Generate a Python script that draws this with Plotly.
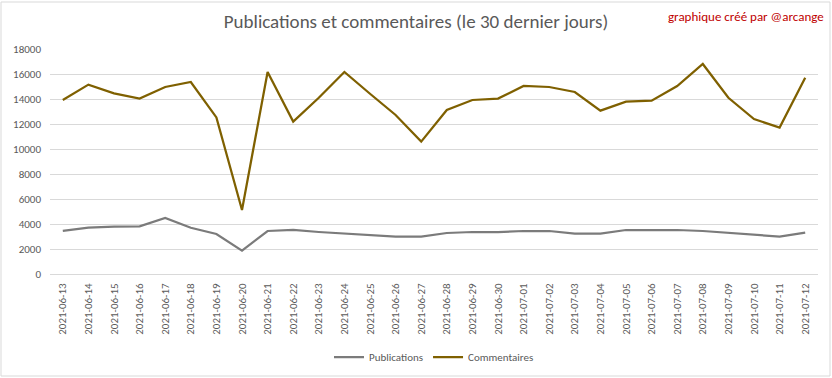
import plotly.graph_objects as go

dates = ["2021-06-13","2021-06-14","2021-06-15","2021-06-16","2021-06-17","2021-06-18","2021-06-19",
         "2021-06-20","2021-06-21","2021-06-22","2021-06-23","2021-06-24","2021-06-25","2021-06-26",
         "2021-06-27","2021-06-28","2021-06-29","2021-06-30","2021-07-01","2021-07-02","2021-07-03",
         "2021-07-04","2021-07-05","2021-07-06","2021-07-07","2021-07-08","2021-07-09","2021-07-10",
         "2021-07-11","2021-07-12"]

publications = [3450, 3710, 3790, 3810, 4480, 3700, 3200, 1870, 3440, 3520,
                3360, 3230, 3150, 2990, 2990, 3280, 3360, 3360, 3440, 3440,
                3230, 3230, 3520, 3520, 3520, 3440, 3310, 3150, 2990, 3310]

commentaires = [13920, 15150, 14450, 14030, 14960, 15360, 12530, 5120, 16160, 12190,
                14100, 16160, 14420, 12720, 10590, 13120, 13920, 14030, 15040, 14960,
                14560, 13070, 13790, 13870, 15040, 16800, 14100, 12400, 11710, 15700]

y_ticks = [0, 2000, 4000, 6000, 8000, 10000, 12000, 14000, 16000, 18000]
y_tick_labels = [str(v) for v in y_ticks]

font_family = "Carlito, Calibri, Lato, sans-serif"
label_color = "#595959"

fig = go.Figure()
fig.add_trace(go.Scatter(x=dates, y=publications, mode="lines", name="Publications",
                         line=dict(color="#7b7b7b", width=2.25)))
fig.add_trace(go.Scatter(x=dates, y=commentaires, mode="lines", name="Commentaires",
                         line=dict(color="#7f6000", width=2.25)))

fig.update_layout(
    width=832, height=378,
    margin=dict(l=50, r=14, t=49, b=104, autoexpand=False),
    paper_bgcolor="white", plot_bgcolor="white",
    font=dict(family=font_family, color=label_color, size=11),
    title=dict(text="Publications et commentaires (le 30 dernier jours)",
               x=0.5, xref="container", xanchor="center", y=0.943, yanchor="middle",
               font=dict(size=19, color=label_color, family=font_family, weight=300)),
    showlegend=True,
    legend=dict(orientation="h", x=0.5, xanchor="center", y=-0.305, yanchor="top",
                font=dict(size=11, color=label_color), itemwidth=30),
    xaxis=dict(type="category", tickangle=-90, range=[-0.5, 29.5], showgrid=False,
               showline=True, linecolor="#d9d9d9", linewidth=1, ticks="", automargin=False,
               tickfont=dict(size=11, color=label_color), ticklabelstandoff=4),
    yaxis=dict(range=[0, 18000], tickvals=y_ticks, ticktext=y_tick_labels, showgrid=True,
               gridcolor="#d9d9d9", gridwidth=1, zeroline=False, showline=False, ticks="",
               automargin=False, tickfont=dict(size=11, color=label_color), ticklabelstandoff=8),
)

fig.add_annotation(text="graphique créé par @arcange", xref="paper", yref="paper",
                   x=1.01, xanchor="right", y=1.145, yanchor="middle", showarrow=False,
                   font=dict(size=13, color="#c00000", family=font_family))

fig.add_shape(type="rect", xref="paper", yref="paper",
              x0=-49/768, x1=1+12/768, y0=-102/225, y1=1+47/225,
              line=dict(color="#d9d9d9", width=1), fillcolor="rgba(0,0,0,0)", layer="below")

fig.write_html("out.html", config={"displayModeBar": False},
               post_script="document.body.style.margin='0';document.body.style.overflow='hidden';")
